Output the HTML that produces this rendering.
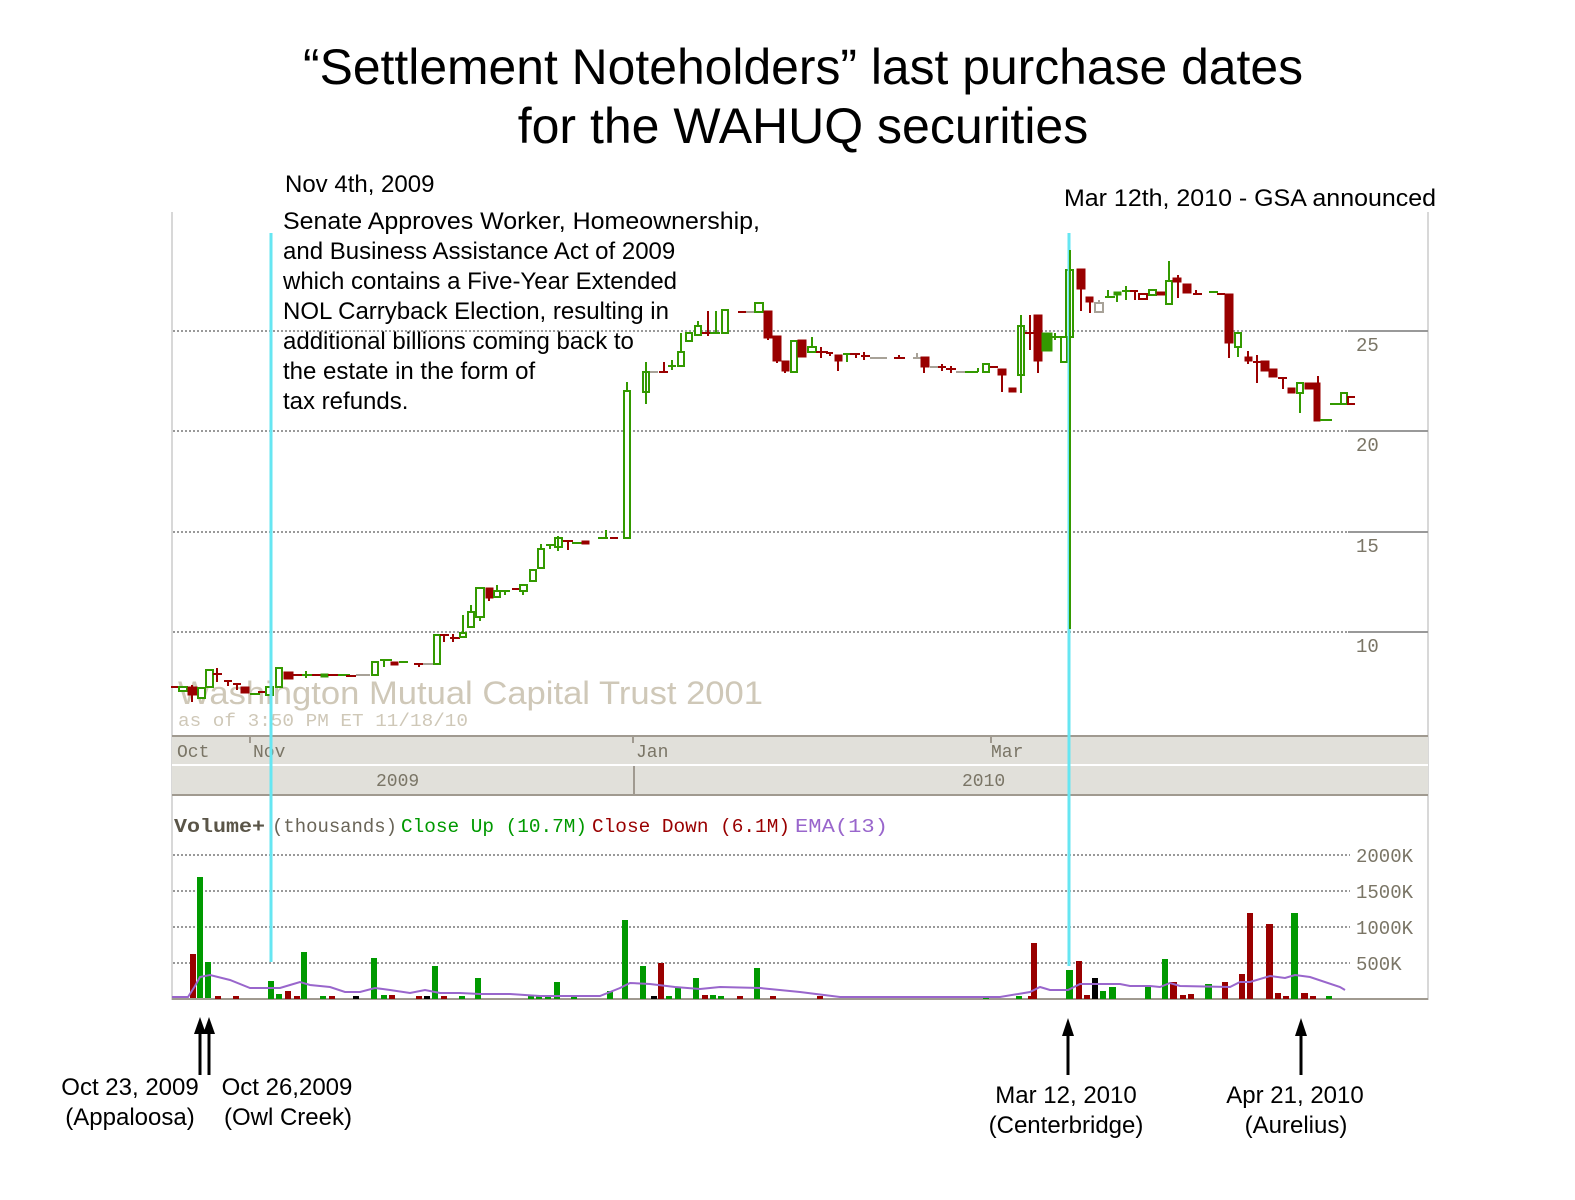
<!DOCTYPE html>
<html><head><meta charset="utf-8"><style>
body{margin:0;background:#fff;}
svg{display:block}
.t{font-family:"Liberation Sans",Arial,sans-serif;fill:#000}
.m{font-family:"Liberation Mono",monospace;}
.g{fill:#fff;stroke:#339900;stroke-width:2}
.r{fill:#990000;stroke:#990000;stroke-width:1}
.gf{fill:#339900;stroke:#339900;stroke-width:1}
.wg{stroke:#339900;stroke-width:2}
.wr{stroke:#990000;stroke-width:2}
.wn{stroke:#a8a298;stroke-width:2}
.vg{fill:#009900}.vr{fill:#990000}.vk{fill:#000}
</style></head><body>
<svg width="1575" height="1200" viewBox="0 0 1575 1200" xmlns="http://www.w3.org/2000/svg">
<rect width="1575" height="1200" fill="#fff"/>
<text class="t" x="803" y="84" font-size="50" text-anchor="middle" textLength="1000" lengthAdjust="spacingAndGlyphs">“Settlement Noteholders” last purchase dates</text>
<text class="t" x="803" y="143" font-size="50" text-anchor="middle">for the WAHUQ securities</text>

<!-- frame -->
<line x1="172" y1="212" x2="172" y2="1000" stroke="#d8d8d8" stroke-width="2"/>
<line x1="1428" y1="212" x2="1428" y2="1000" stroke="#d8d8d8" stroke-width="2"/>

<!-- price grid -->
<g stroke="#999" stroke-width="2" stroke-dasharray="2,2">
<line x1="173" y1="331" x2="1348" y2="331"/><line x1="173" y1="431" x2="1348" y2="431"/>
<line x1="173" y1="532" x2="1348" y2="532"/><line x1="173" y1="632" x2="1348" y2="632"/>
</g>
<g stroke="#999" stroke-width="2">
<line x1="1348" y1="331" x2="1428" y2="331"/><line x1="1348" y1="431" x2="1428" y2="431"/>
<line x1="1348" y1="532" x2="1428" y2="532"/><line x1="1348" y1="632" x2="1428" y2="632"/>
</g>
<g class="m" font-size="19" fill="#7a7566">
<text x="1356" y="351">25</text><text x="1356" y="451">20</text>
<text x="1356" y="552">15</text><text x="1356" y="652">10</text>
</g>

<!-- watermark -->
<text class="t" x="178" y="704" font-size="32" style="fill:#cfc8b8" textLength="585" lengthAdjust="spacingAndGlyphs">Washington Mutual Capital Trust 2001</text>
<text class="m" x="178" y="726" font-size="18" fill="#cfc8b8" textLength="290" lengthAdjust="spacingAndGlyphs">as of 3:50 PM ET 11/18/10</text>

<!-- axis band -->
<rect x="172" y="737" width="1256" height="58" fill="#e1e0da"/>
<line x1="172" y1="736" x2="1428" y2="736" stroke="#a09a90" stroke-width="2"/>
<line x1="172" y1="765" x2="1428" y2="765" stroke="#fff" stroke-width="2"/>
<line x1="172" y1="795" x2="1428" y2="795" stroke="#a09a90" stroke-width="2"/>
<line x1="634" y1="766" x2="634" y2="794" stroke="#a09a90" stroke-width="2"/>
<g stroke="#a09a90" stroke-width="2"><line x1="250" y1="737" x2="250" y2="743"/><line x1="633" y1="737" x2="633" y2="743"/><line x1="991" y1="737" x2="991" y2="743"/></g>
<g class="m" font-size="18" fill="#7a7566">
<text x="177" y="757">Oct</text><text x="253" y="757">Nov</text><text x="636" y="757">Jan</text><text x="991" y="757">Mar</text>
<text x="376" y="786">2009</text><text x="962" y="786">2010</text>
</g>

<!-- candles -->
<g>
<line class="wr" x1="171" y1="687" x2="180" y2="687"/>
<rect class="g" x="179" y="687" width="8" height="4"/>
<line class="wr" x1="192" y1="685" x2="192" y2="702"/><rect class="r" x="188" y="687" width="9" height="8"/>
<rect class="g" x="198" y="688" width="7" height="10"/>
<rect class="g" x="206" y="670" width="7" height="17"/>
<line class="wr" x1="217" y1="668" x2="217" y2="682"/><line class="wr" x1="213" y1="674" x2="222" y2="674"/>
<line class="wr" x1="224" y1="681" x2="232" y2="681"/><line class="wr" x1="228" y1="681" x2="228" y2="686"/>
<line class="wr" x1="233" y1="684" x2="241" y2="684"/><line class="wr" x1="237" y1="684" x2="237" y2="690"/>
<rect class="r" x="241" y="687" width="8" height="6"/>
<line class="wg" x1="250" y1="694" x2="260" y2="694"/>
<line class="wr" x1="258" y1="692" x2="268" y2="692"/>
<rect class="g" x="266" y="687" width="7" height="8"/>
<rect class="g" x="276" y="668" width="6" height="19"/>
<rect class="r" x="284" y="672" width="9" height="7"/>
<line class="wr" x1="292" y1="675" x2="302" y2="675"/>
<line class="wg" x1="302" y1="675" x2="312" y2="675"/><line class="wg" x1="306" y1="671" x2="306" y2="678"/>
<line class="wr" x1="312" y1="675" x2="322" y2="675"/>
<rect class="gf" x="321" y="674" width="7" height="3"/>
<line class="wr" x1="328" y1="675" x2="338" y2="675"/>
<line class="wg" x1="338" y1="675" x2="350" y2="675"/>
<line class="wr" x1="346" y1="676" x2="356" y2="676"/>
<line class="wn" x1="356" y1="675" x2="370" y2="675"/>
<rect class="g" x="372" y="662" width="6" height="13"/>
<line class="wg" x1="380" y1="660" x2="392" y2="660"/><line class="wg" x1="384" y1="660" x2="384" y2="667"/>
<rect class="r" x="391" y="662" width="7" height="3"/>
<line class="wg" x1="399" y1="662" x2="408" y2="662"/>
<line class="wr" x1="414" y1="664" x2="423" y2="664"/><line class="wr" x1="419" y1="664" x2="419" y2="667"/>
<line class="wn" x1="423" y1="664" x2="433" y2="664"/>
<rect class="g" x="434" y="635" width="6" height="29"/>
<line class="wr" x1="440" y1="635" x2="449" y2="635"/><line class="wr" x1="444" y1="635" x2="444" y2="642"/>
<line class="wr" x1="450" y1="638" x2="460" y2="638"/><line class="wr" x1="453" y1="634" x2="453" y2="642"/>
<rect class="g" x="460" y="633" width="6" height="4"/><line class="wg" x1="463" y1="615" x2="463" y2="633"/>
<rect class="g" x="468" y="612" width="6" height="15"/><line class="wg" x1="471" y1="605" x2="471" y2="612"/>
<rect class="g" x="476" y="588" width="8" height="29"/><line class="wg" x1="480" y1="617" x2="480" y2="621"/>
<rect class="r" x="486" y="588" width="7" height="10"/><line class="wr" x1="489" y1="598" x2="489" y2="601"/>
<rect class="g" x="494" y="591" width="6" height="6"/><line class="wg" x1="497" y1="585" x2="497" y2="591"/>
<line class="wg" x1="500" y1="591" x2="510" y2="591"/><line class="wg" x1="505" y1="591" x2="505" y2="595"/>
<line class="wr" x1="512" y1="589" x2="520" y2="589"/>
<rect class="g" x="520" y="585" width="7" height="6"/><line class="wg" x1="523" y1="591" x2="523" y2="595"/>
<rect class="g" x="530" y="570" width="6" height="11"/>
<rect class="g" x="538" y="549" width="6" height="19"/><line class="wg" x1="541" y1="544" x2="541" y2="549"/>
<line class="wg" x1="546" y1="545" x2="554" y2="545"/><line class="wg" x1="550" y1="545" x2="550" y2="549"/>
<rect class="g" x="555" y="538" width="7" height="9"/><line class="wg" x1="558" y1="536" x2="558" y2="551"/>
<line class="wr" x1="563" y1="541" x2="573" y2="541"/><line class="wr" x1="568" y1="541" x2="568" y2="550"/>
<line class="wg" x1="572" y1="543" x2="582" y2="543"/>
<rect class="r" x="582" y="541" width="7" height="3"/>
<line class="wg" x1="598" y1="538" x2="608" y2="538"/><line class="wg" x1="606" y1="530" x2="606" y2="538"/>
<line class="wr" x1="610" y1="538" x2="618" y2="538"/>
<rect class="g" x="624" y="391" width="6" height="147"/><line class="wg" x1="627" y1="382" x2="627" y2="391"/>
<rect class="g" x="643" y="372" width="6" height="20"/><line class="wg" x1="646" y1="362" x2="646" y2="404"/>
<line class="wn" x1="650" y1="372" x2="658" y2="372"/>
<line class="wr" x1="659" y1="372" x2="668" y2="372"/><line class="wr" x1="664" y1="362" x2="664" y2="372"/>
<line class="wg" x1="668" y1="366" x2="676" y2="366"/><line class="wg" x1="672" y1="360" x2="672" y2="370"/>
<rect class="g" x="678" y="352" width="6" height="14"/><line class="wg" x1="681" y1="333" x2="681" y2="352"/>
<rect class="g" x="686" y="333" width="6" height="8"/>
<rect class="g" x="695" y="326" width="6" height="9"/><line class="wg" x1="698" y1="321" x2="698" y2="326"/>
<line class="wr" x1="702" y1="333" x2="710" y2="333"/><line class="wr" x1="708" y1="311" x2="708" y2="336"/>
<line class="wg" x1="710" y1="333" x2="720" y2="333"/><line class="wg" x1="716" y1="311" x2="716" y2="333"/>
<rect class="g" x="722" y="310" width="6" height="23"/>
<line class="wr" x1="738" y1="312" x2="746" y2="312"/>
<line class="wn" x1="746" y1="312" x2="754" y2="312"/>
<rect class="g" x="755" y="303" width="8" height="9"/>
<rect class="r" x="764" y="311" width="8" height="27"/><line class="wr" x1="768" y1="338" x2="768" y2="340"/>
<rect class="r" x="773" y="336" width="8" height="25"/><line class="wr" x1="777" y1="361" x2="777" y2="363"/>
<rect class="r" x="782" y="361" width="7" height="10"/><line class="wr" x1="785" y1="371" x2="785" y2="373"/>
<rect class="g" x="791" y="341" width="6" height="31"/>
<rect class="r" x="798" y="340" width="8" height="17"/>
<rect class="g" x="808" y="347" width="8" height="5"/><line class="wg" x1="812" y1="337" x2="812" y2="347"/>
<line class="wr" x1="816" y1="352" x2="828" y2="352"/><line class="wr" x1="821" y1="347" x2="821" y2="358"/>
<line class="wr" x1="826" y1="353" x2="833" y2="353"/><line class="wr" x1="830" y1="353" x2="830" y2="356"/>
<rect class="r" x="835" y="355" width="7" height="6"/><line class="wr" x1="838" y1="361" x2="838" y2="371"/>
<line class="wg" x1="843" y1="354" x2="850" y2="354"/><line class="wg" x1="847" y1="354" x2="847" y2="362"/>
<line class="wr" x1="850" y1="354" x2="860" y2="354"/><line class="wr" x1="856" y1="354" x2="856" y2="358"/>
<line class="wr" x1="861" y1="356" x2="870" y2="356"/><line class="wr" x1="864" y1="352" x2="864" y2="360"/>
<line class="wn" x1="870" y1="358" x2="887" y2="358"/>
<line class="wr" x1="894" y1="358" x2="905" y2="358"/><line class="wr" x1="899" y1="355" x2="899" y2="358"/>
<line class="wn" x1="913" y1="358" x2="921" y2="358"/><line class="wn" x1="917" y1="353" x2="917" y2="358"/>
<rect class="r" x="921" y="357" width="8" height="10"/><line class="wr" x1="924" y1="367" x2="924" y2="373"/>
<line class="wn" x1="930" y1="367" x2="938" y2="367"/>
<line class="wr" x1="938" y1="367" x2="946" y2="367"/><line class="wr" x1="942" y1="364" x2="942" y2="371"/>
<line class="wr" x1="946" y1="369" x2="956" y2="369"/><line class="wr" x1="951" y1="366" x2="951" y2="373"/>
<line class="wn" x1="956" y1="372" x2="965" y2="372"/>
<line class="wg" x1="965" y1="372" x2="978" y2="372"/><line class="wg" x1="978" y1="368" x2="978" y2="372"/>
<rect class="g" x="983" y="364" width="6" height="8"/>
<line class="wr" x1="990" y1="367" x2="998" y2="367"/>
<rect class="r" x="998" y="369" width="8" height="6"/><line class="wr" x1="1002" y1="375" x2="1002" y2="392"/>
<rect class="r" x="1009" y="388" width="7" height="4"/>
<rect class="g" x="1018" y="326" width="6" height="49"/><line class="wg" x1="1021" y1="315" x2="1021" y2="393"/>
<line class="wr" x1="1025" y1="333" x2="1034" y2="333"/><line class="wr" x1="1030" y1="315" x2="1030" y2="350"/>
<rect class="r" x="1034" y="315" width="8" height="46"/><line class="wr" x1="1038" y1="361" x2="1038" y2="373"/>
<rect class="gf" x="1042" y="333" width="10" height="18"/>
<line class="wg" x1="1052" y1="337" x2="1064" y2="337"/><line class="wg" x1="1055" y1="333" x2="1055" y2="340"/>
<rect class="g" x="1061" y="337" width="6" height="25"/>
<rect class="g" x="1066" y="270" width="7" height="67"/>
<rect class="r" x="1077" y="269" width="8" height="20"/><line class="wr" x1="1081" y1="289" x2="1081" y2="311"/>
<rect class="r" x="1086" y="297" width="7" height="5"/><line class="wr" x1="1090" y1="302" x2="1090" y2="313"/>
<rect x="1095" y="303" width="8" height="9" fill="#fff" stroke="#a8a298" stroke-width="2"/><line class="wn" x1="1099" y1="300" x2="1099" y2="303"/>
<line class="wg" x1="1105" y1="297" x2="1115" y2="297"/><line class="wg" x1="1108" y1="290" x2="1108" y2="297"/>
<rect class="gf" x="1114" y="292" width="7" height="3"/><line class="wg" x1="1117" y1="295" x2="1117" y2="302"/>
<line class="wg" x1="1122" y1="291" x2="1130" y2="291"/><line class="wg" x1="1126" y1="286" x2="1126" y2="300"/>
<line class="wr" x1="1130" y1="291" x2="1138" y2="291"/><line class="wr" x1="1135" y1="291" x2="1135" y2="300"/>
<rect x="1139" y="294" width="8" height="5" fill="#fff" stroke="#990000" stroke-width="2"/>
<rect class="g" x="1149" y="290" width="7" height="5"/>
<rect class="r" x="1157" y="292" width="8" height="3"/>
<rect class="g" x="1166" y="281" width="6" height="23"/><line class="wg" x1="1169" y1="261" x2="1169" y2="281"/>
<rect class="r" x="1173" y="278" width="8" height="4"/><line class="wr" x1="1178" y1="275" x2="1178" y2="298"/>
<rect class="r" x="1183" y="284" width="8" height="9"/>
<line class="wr" x1="1193" y1="294" x2="1202" y2="294"/><line class="wr" x1="1196" y1="290" x2="1196" y2="294"/>
<line class="wg" x1="1209" y1="292" x2="1218" y2="292"/>
<line class="wr" x1="1217" y1="294" x2="1225" y2="294"/>
<rect class="r" x="1225" y="294" width="8" height="49"/><line class="wr" x1="1229" y1="343" x2="1229" y2="358"/>
<rect class="g" x="1235" y="333" width="6" height="14"/><line class="wg" x1="1238" y1="347" x2="1238" y2="357"/>
<rect class="r" x="1245" y="357" width="7" height="4"/><line class="wr" x1="1248" y1="351" x2="1248" y2="364"/>
<line class="wr" x1="1253" y1="362" x2="1261" y2="362"/><line class="wr" x1="1257" y1="355" x2="1257" y2="383"/>
<rect class="r" x="1261" y="361" width="8" height="10"/>
<rect class="r" x="1269" y="369" width="8" height="8"/>
<line class="wr" x1="1278" y1="378" x2="1287" y2="378"/><line class="wr" x1="1283" y1="378" x2="1283" y2="389"/>
<rect class="r" x="1288" y="388" width="7" height="5"/>
<rect class="g" x="1297" y="383" width="6" height="10"/><line class="wg" x1="1300" y1="393" x2="1300" y2="413"/>
<rect class="r" x="1305" y="383" width="8" height="6"/>
<rect class="r" x="1314" y="383" width="6" height="38"/><line class="wr" x1="1318" y1="376" x2="1318" y2="421"/>
<line class="wg" x1="1320" y1="420" x2="1332" y2="420"/>
<line class="wg" x1="1330" y1="404" x2="1341" y2="404"/>
<rect class="g" x="1341" y="393" width="6" height="11"/>
<path d="M1355 397 H1348 V404 H1355" fill="none" stroke="#990000" stroke-width="2"/>
</g>

<!-- volume -->
<g class="m" font-size="19">
<text x="174" y="832" font-weight="bold" fill="#5a5548" textLength="91" lengthAdjust="spacingAndGlyphs">Volume+</text>
<text x="272" y="832" fill="#6a6558" textLength="125" lengthAdjust="spacingAndGlyphs">(thousands)</text>
<text x="401" y="832" fill="#009900" textLength="186" lengthAdjust="spacingAndGlyphs">Close Up (10.7M)</text>
<text x="592" y="832" fill="#990000" textLength="198" lengthAdjust="spacingAndGlyphs">Close Down (6.1M)</text>
<text x="795" y="832" fill="#9966cc" textLength="93" lengthAdjust="spacingAndGlyphs">EMA(13)</text>
</g>
<g stroke="#999" stroke-width="2" stroke-dasharray="2,2">
<line x1="173" y1="855" x2="1350" y2="855"/><line x1="173" y1="891" x2="1350" y2="891"/>
<line x1="173" y1="927" x2="1350" y2="927"/><line x1="173" y1="963" x2="1350" y2="963"/>
</g>
<line x1="172" y1="999" x2="1428" y2="999" stroke="#a09a90" stroke-width="2"/>
<g class="m" font-size="19" fill="#7a7566">
<text x="1356" y="862">2000K</text><text x="1356" y="898">1500K</text>
<text x="1356" y="934">1000K</text><text x="1356" y="970">500K</text>
</g>
<g>
<rect class="vr" x="190" y="954" width="6" height="44"/>
<rect class="vg" x="197" y="877" width="6" height="121"/>
<rect class="vg" x="205" y="962" width="6" height="36"/>
<rect class="vr" x="215" y="996" width="6" height="3"/><rect class="vr" x="233" y="996" width="6" height="3"/>
<rect class="vg" x="268" y="981" width="6" height="18"/><rect class="vg" x="276" y="994" width="6" height="5"/>
<rect class="vr" x="285" y="991" width="6" height="8"/><rect class="vr" x="294" y="996" width="6" height="3"/>
<rect class="vg" x="301" y="952" width="6" height="47"/>
<rect class="vg" x="320" y="996" width="6" height="3"/><rect class="vr" x="329" y="996" width="6" height="3"/>
<rect class="vk" x="353" y="996" width="6" height="3"/>
<rect class="vg" x="371" y="958" width="6" height="41"/>
<rect class="vg" x="381" y="995" width="6" height="4"/><rect class="vr" x="389" y="995" width="6" height="4"/>
<rect class="vr" x="416" y="996" width="6" height="3"/><rect class="vk" x="424" y="996" width="6" height="3"/>
<rect class="vg" x="432" y="966" width="6" height="33"/><rect class="vr" x="441" y="996" width="6" height="3"/>
<rect class="vg" x="459" y="996" width="6" height="3"/>
<rect class="vg" x="475" y="978" width="6" height="21"/>
<rect class="vg" x="528" y="996" width="6" height="3"/><rect class="vg" x="536" y="996" width="6" height="3"/><rect class="vg" x="545" y="996" width="6" height="3"/>
<rect class="vg" x="554" y="982" width="6" height="17"/>
<rect class="vg" x="571" y="996" width="6" height="3"/>
<rect class="vg" x="607" y="991" width="6" height="8"/>
<rect class="vg" x="622" y="920" width="6" height="79"/>
<rect class="vg" x="640" y="966" width="6" height="33"/>
<rect class="vk" x="651" y="996" width="6" height="3"/>
<rect class="vr" x="658" y="963" width="6" height="36"/>
<rect class="vg" x="666" y="996" width="6" height="3"/>
<rect class="vg" x="675" y="988" width="6" height="11"/>
<rect class="vg" x="693" y="978" width="6" height="21"/>
<rect class="vr" x="702" y="995" width="6" height="4"/><rect class="vg" x="710" y="995" width="6" height="4"/>
<rect class="vg" x="718" y="996" width="6" height="3"/>
<rect class="vr" x="737" y="996" width="6" height="3"/>
<rect class="vg" x="754" y="968" width="6" height="31"/>
<rect class="vr" x="770" y="996" width="6" height="3"/>
<rect class="vr" x="817" y="996" width="6" height="3"/>
<rect class="vg" x="983" y="996" width="6" height="3"/><rect class="vg" x="1016" y="996" width="6" height="3"/>
<rect class="vr" x="1028" y="996" width="6" height="3"/>
<rect class="vr" x="1031" y="943" width="6" height="56"/>
<rect class="vg" x="1066" y="970" width="7" height="29"/>
<rect class="vr" x="1076" y="961" width="6" height="38"/>
<rect class="vr" x="1084" y="995" width="6" height="4"/>
<rect class="vk" x="1092" y="978" width="6" height="21"/>
<rect class="vg" x="1100" y="991" width="6" height="8"/>
<rect class="vg" x="1109" y="987" width="7" height="12"/>
<rect class="vg" x="1145" y="986" width="6" height="13"/>
<rect class="vg" x="1162" y="959" width="6" height="40"/>
<rect class="vr" x="1170" y="982" width="7" height="17"/>
<rect class="vr" x="1180" y="995" width="6" height="4"/><rect class="vr" x="1188" y="994" width="6" height="5"/>
<rect class="vg" x="1205" y="984" width="7" height="15"/>
<rect class="vr" x="1222" y="982" width="6" height="17"/>
<rect class="vr" x="1239" y="974" width="6" height="25"/>
<rect class="vr" x="1247" y="913" width="6" height="86"/>
<rect class="vr" x="1266" y="924" width="7" height="75"/>
<rect class="vr" x="1275" y="993" width="6" height="6"/><rect class="vr" x="1283" y="996" width="6" height="3"/>
<rect class="vg" x="1291" y="913" width="7" height="86"/>
<rect class="vr" x="1301" y="993" width="7" height="6"/><rect class="vr" x="1310" y="996" width="6" height="3"/>
<rect class="vg" x="1326" y="996" width="6" height="3"/>
</g>
<polyline fill="none" stroke="#9966cc" stroke-width="2" points="172,997 188,997 195,986 200,977 210,975 230,980 250,988 280,988 290,985 300,982 310,985 330,987 345,992 360,992 375,988 390,990 410,993 425,990 440,993 460,993 480,994 510,994 540,996 560,996 600,996 620,988 630,983 650,984 675,987 700,989 720,987 760,988 800,992 840,997 955,997 980,997 1000,997 1030,992 1040,987 1050,990 1068,990 1080,984 1120,984 1130,986 1150,986 1160,987 1170,983 1180,986 1230,987 1240,982 1250,982 1270,976 1285,978 1295,975 1310,977 1340,987 1345,990"/>

<!-- cyan markers -->
<line x1="271" y1="233" x2="271" y2="962" stroke="#66e6f2" stroke-width="3"/>
<line x1="1069" y1="233" x2="1069" y2="966" stroke="#66e6f2" stroke-width="3"/>
<line class="wg" x1="1070" y1="250" x2="1070" y2="629"/>

<!-- annotations -->
<g class="t" font-size="24">
<text x="285" y="192">Nov 4th, 2009</text>
<text x="283" y="229" textLength="477" lengthAdjust="spacingAndGlyphs">Senate Approves Worker, Homeownership,</text>
<text x="283" y="259">and Business Assistance Act of 2009</text>
<text x="283" y="289">which contains a Five-Year Extended</text>
<text x="283" y="319">NOL Carryback Election, resulting in</text>
<text x="283" y="349">additional billions coming back to</text>
<text x="283" y="379">the estate in the form of</text>
<text x="283" y="409">tax refunds.</text>
<text x="1064" y="206" textLength="372" lengthAdjust="spacingAndGlyphs">Mar 12th, 2010 - GSA announced</text>
<text x="130" y="1095" text-anchor="middle">Oct 23, 2009</text>
<text x="130" y="1125" text-anchor="middle">(Appaloosa)</text>
<text x="287" y="1095" text-anchor="middle">Oct 26,2009</text>
<text x="288" y="1125" text-anchor="middle">(Owl Creek)</text>
<text x="1066" y="1103" text-anchor="middle">Mar 12, 2010</text>
<text x="1066" y="1133" text-anchor="middle">(Centerbridge)</text>
<text x="1295" y="1103" text-anchor="middle">Apr 21, 2010</text>
<text x="1296" y="1133" text-anchor="middle">(Aurelius)</text>
</g>
<g stroke="#000" stroke-width="3">
<line x1="200" y1="1030" x2="200" y2="1075"/><line x1="209" y1="1030" x2="209" y2="1075"/>
<line x1="1068" y1="1032" x2="1068" y2="1075"/><line x1="1301" y1="1032" x2="1301" y2="1075"/>
</g>
<g fill="#000">
<polygon points="200,1017 194,1034 206,1034"/><polygon points="209,1017 203,1034 215,1034"/>
<polygon points="1068,1018 1062,1036 1074,1036"/><polygon points="1301,1018 1295,1036 1307,1036"/>
</g>
</svg>
</body></html>
